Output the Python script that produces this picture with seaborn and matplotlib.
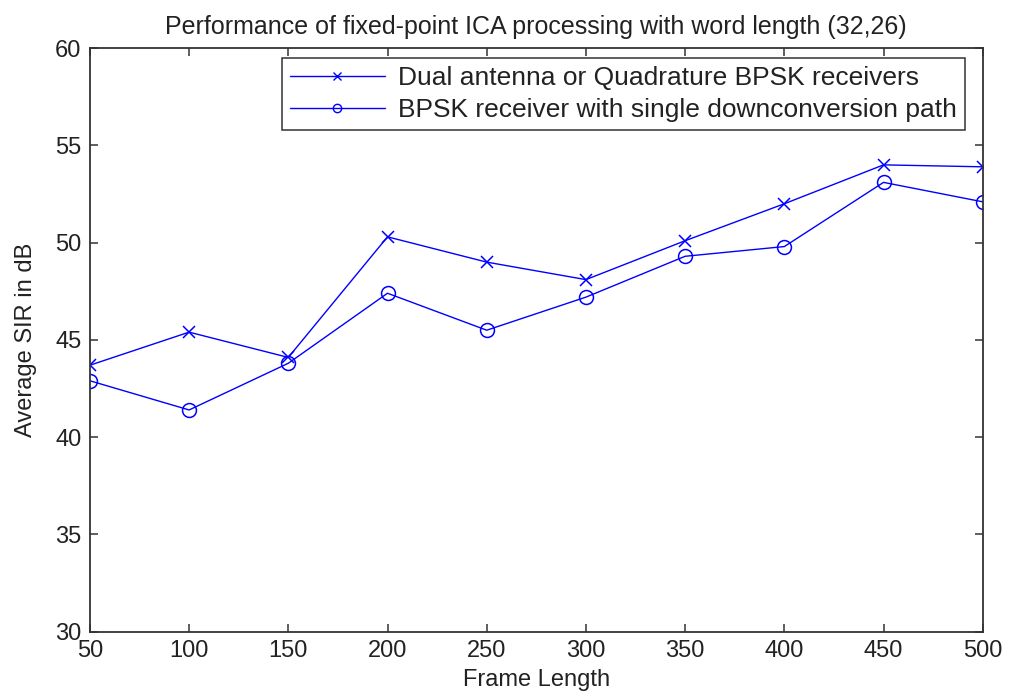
import matplotlib
matplotlib.use("Agg")
import matplotlib.pyplot as plt
import seaborn as sns

frame_length = [50, 100, 150, 200, 250, 300, 350, 400, 450, 500]
sir_dual = [43.7, 45.4, 44.1, 50.3, 49.0, 48.1, 50.1, 52.0, 54.0, 53.9]
sir_single = [42.9, 41.4, 43.8, 47.4, 45.5, 47.2, 49.3, 49.8, 53.1, 52.1]
series_names = ["Dual antenna or Quadrature BPSK receivers",
                "BPSK receiver with single downconversion path"]
y_ticks = [30, 35, 40, 45, 50, 55, 60]
x_ticks = frame_length

sns.set_theme(style="white")
plt.rcParams['font.family'] = ['Liberation Sans', 'DejaVu Sans']

fig = plt.figure(figsize=(10.1, 6.98), dpi=100)
ax = fig.add_axes([0.089, 0.095, 0.884, 0.836])

blue = "#0000ff"
sns.lineplot(x=frame_length, y=sir_dual, color=blue, marker="x", markersize=9,
             markeredgewidth=1.1, markeredgecolor=blue, linewidth=1.0, ax=ax)
sns.lineplot(x=frame_length, y=sir_single, color=blue, marker="o", markersize=10,
             markeredgewidth=1.1, markerfacecolor="none", markeredgecolor=blue,
             linewidth=1.0, ax=ax)

ax.set_xlim(50, 500)
ax.set_ylim(30, 60)
ax.set_xticks(x_ticks)
ax.set_yticks(y_ticks)
ax.tick_params(direction="in", length=6, width=1.1, bottom=True, left=True,
               top=True, right=True, labelsize=17, colors="#333333", pad=6)
ax.tick_params(labelcolor="#222222")
for s in ax.spines.values():
    s.set_color("#333333")
    s.set_linewidth(1.3)

ax.set_xlabel("Frame Length", fontsize=17, labelpad=5, color="#222222")
ax.set_ylabel("Average SIR in dB", fontsize=17, labelpad=13, color="#222222")
ax.set_title("Performance of fixed-point ICA processing with word length (32,26)",
             fontsize=18, pad=10, color="#222222")

handles = [plt.Line2D([], [], color=blue, lw=1.0, marker="x", markersize=6),
           plt.Line2D([], [], color=blue, lw=1.0, marker="o", markersize=6,
                      markerfacecolor="none")]
leg = ax.legend(handles, series_names, loc="upper right",
                bbox_to_anchor=(0.98, 0.983), borderaxespad=0, fontsize=19,
                frameon=True, fancybox=False, framealpha=1, edgecolor="#333333",
                handlelength=3.6, handletextpad=0.5,
                labelspacing=0.3, borderpad=0.3)
leg.get_frame().set_linewidth(1.1)
for t in leg.get_texts():
    t.set_color("#222222")

fig.savefig("out.png", dpi=100)
